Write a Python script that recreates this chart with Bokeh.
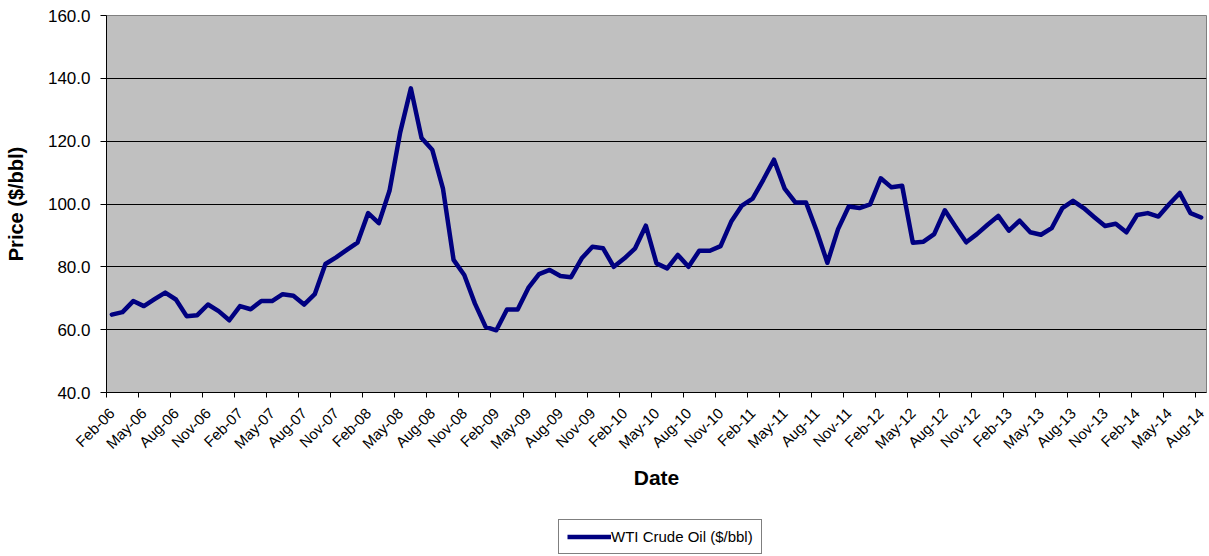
import math

from bokeh.embed import file_html
from bokeh.layouts import column
from bokeh.models import (ColumnDataSource, FixedTicker, Legend, LegendItem,
                          NumeralTickFormatter, Range1d)
from bokeh.plotting import figure
from bokeh.resources import INLINE

# Monthly WTI crude oil price, Feb-06 .. Aug-14 ($/bbl)
prices = [
    64.8, 65.6, 69.1, 67.5, 69.7, 71.8, 69.6, 64.3, 64.6, 68.0, 65.9, 63.0,   # Feb-06 .. Jan-07
    67.5, 66.5, 69.1, 69.1, 71.3, 70.8, 68.0, 71.3, 80.9, 83.0, 85.4, 87.7,   # Feb-07 .. Jan-08
    97.1, 93.9, 104.2, 122.8, 136.8, 121.0, 117.3, 105.0, 82.2, 77.4, 68.3, 60.9,  # Feb-08 .. Jan-09
    59.8, 66.4, 66.4, 73.3, 77.7, 79.0, 77.1, 76.7, 82.7, 86.4, 85.9, 80.0,   # Feb-09 .. Jan-10
    82.7, 85.9, 93.1, 81.1, 79.5, 83.8, 80.0, 85.1, 85.1, 86.6, 94.4, 99.5,   # Feb-10 .. Jan-11
    101.7, 107.7, 114.1, 104.9, 100.5, 100.5, 91.4, 81.3, 92.0, 99.2, 98.7, 99.9,  # Feb-11 .. Jan-12
    108.2, 105.3, 105.8, 87.7, 88.0, 90.4, 98.0, 92.8, 87.8, 90.4, 93.4, 96.2,  # Feb-12 .. Jan-13
    91.5, 94.7, 91.0, 90.2, 92.3, 98.7, 101.0, 98.7, 95.8, 93.0, 93.7, 91.0,  # Feb-13 .. Jan-14
    96.5, 97.1, 96.0, 99.9, 103.5, 97.1, 95.7,                                # Feb-14 .. Aug-14
]

# Quarterly category labels (every third month)
tick_labels = [
    "Feb-06", "May-06", "Aug-06", "Nov-06",
    "Feb-07", "May-07", "Aug-07", "Nov-07",
    "Feb-08", "May-08", "Aug-08", "Nov-08",
    "Feb-09", "May-09", "Aug-09", "Nov-09",
    "Feb-10", "May-10", "Aug-10", "Nov-10",
    "Feb-11", "May-11", "Aug-11", "Nov-11",
    "Feb-12", "May-12", "Aug-12", "Nov-12",
    "Feb-13", "May-13", "Aug-13", "Nov-13",
    "Feb-14", "May-14", "Aug-14",
]

y_ticks = [40, 60, 80, 100, 120, 140, 160]
series_name = "WTI Crude Oil ($/bbl)"

n = len(prices)
month_idx = list(range(n))
label_step = 3
label_pos = [i * label_step for i in range(len(tick_labels))]
boundary_pos = [p - 0.5 for p in label_pos]

FONT = "Liberation Sans"
LINE_COLOR = "#000080"
LINE_WIDTH = 4.5

p = figure(
    width=1209, height=515,
    output_backend="svg", toolbar_location=None,
    x_range=Range1d(-0.5, n - 0.5), y_range=Range1d(40, 160),
    min_border_left=106, min_border_right=3,
    min_border_top=15, min_border_bottom=123,
)
p.background_fill_color = "#C0C0C0"
p.border_fill_color = "white"
p.outline_line_color = "#808080"
p.outline_line_width = 1

src = ColumnDataSource(dict(x=month_idx, y=prices))
p.line("x", "y", source=src, line_color=LINE_COLOR, line_width=LINE_WIDTH,
       line_join="round", line_cap="round")

# Gridlines
p.xgrid.visible = False
p.ygrid.ticker = FixedTicker(ticks=y_ticks)
p.ygrid.grid_line_color = "black"
p.ygrid.grid_line_width = 1

# Y axis
p.yaxis.ticker = FixedTicker(ticks=y_ticks)
p.yaxis.formatter = NumeralTickFormatter(format="0.0")
p.yaxis.axis_label = "Price ($/bbl)"
p.yaxis.axis_label_text_font = FONT
p.yaxis.axis_label_text_font_style = "bold"
p.yaxis.axis_label_text_font_size = "20px"
p.yaxis.axis_label_text_color = "black"
p.yaxis.axis_label_standoff = 18
p.yaxis.major_label_text_font = FONT
p.yaxis.major_label_text_font_size = "17px"
p.yaxis.major_label_text_color = "black"
p.yaxis.major_label_standoff = 10
p.yaxis.major_tick_out = 6
p.yaxis.major_tick_in = 0
p.yaxis.minor_tick_out = 0
p.yaxis.minor_tick_in = 0
p.yaxis.axis_line_color = "black"
p.yaxis.major_tick_line_color = "black"

# X axis: labels at category centres, tick marks at category boundaries
p.xaxis.ticker = FixedTicker(ticks=label_pos, minor_ticks=boundary_pos)
p.xaxis.major_label_overrides = {pos: lab for pos, lab in zip(label_pos, tick_labels)}
p.xaxis.major_label_orientation = math.pi / 4
p.xaxis.major_label_text_font = FONT
p.xaxis.major_label_text_font_size = "15px"
p.xaxis.major_label_text_color = "black"
p.xaxis.major_label_standoff = 13
p.xaxis.major_tick_out = 0
p.xaxis.major_tick_in = 0
p.xaxis.minor_tick_out = 5
p.xaxis.minor_tick_in = 0
p.xaxis.minor_tick_line_color = "black"
p.xaxis.axis_line_color = "black"
p.xaxis.axis_label = "Date"
p.xaxis.axis_label_text_font = FONT
p.xaxis.axis_label_text_font_style = "bold"
p.xaxis.axis_label_text_font_size = "21px"
p.xaxis.axis_label_text_color = "black"
p.xaxis.axis_label_standoff = 5

# Legend strip under the chart; its frame lines up with the chart frame,
# and the series is drawn there outside the visible range only to key the legend
leg = figure(
    width=1209, height=41,
    output_backend="svg", toolbar_location=None,
    x_axis_location=None, y_axis_location=None,
    x_range=Range1d(-0.5, n - 0.5), y_range=Range1d(0, 1),
    min_border_left=106, min_border_right=3, min_border_top=0, min_border_bottom=0,
)
leg.outline_line_color = None
leg.grid.visible = False
leg.background_fill_color = "white"
leg.border_fill_color = "white"
key = leg.line("x", "y", source=src, line_color=LINE_COLOR, line_width=LINE_WIDTH)

legend = Legend(
    items=[LegendItem(label=series_name, renderers=[key])],
    location=(452, 2), orientation="horizontal",
    border_line_color="black", border_line_width=1,
    background_fill_color="white", background_fill_alpha=1,
    label_text_font=FONT, label_text_font_size="15px",
    label_text_color="black",
    glyph_width=44, glyph_height=17, label_height=17, label_standoff=0,
    padding=8, spacing=0, margin=0,
)
leg.add_layout(legend)

open("out.html", "w").write(file_html(column(p, leg, spacing=0), INLINE))
